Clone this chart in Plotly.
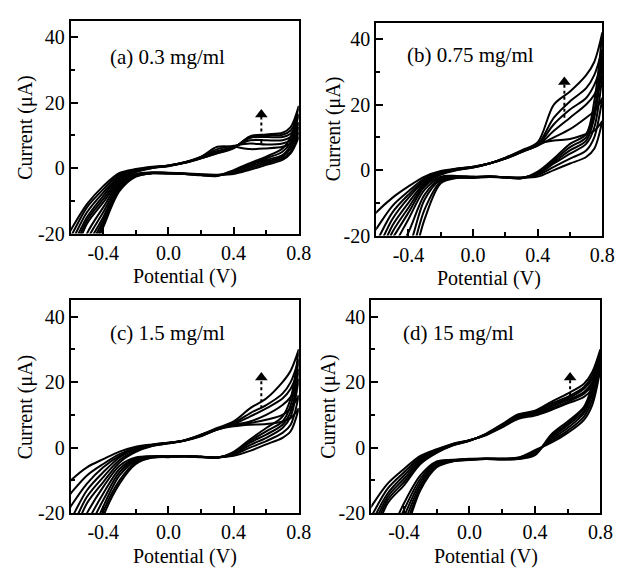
import plotly.graph_objects as go

# Potential grid (V) shared by all branches
POT = [-0.7, -0.6, -0.5, -0.4, -0.3, -0.2, -0.1, 0.0, 0.1, 0.2, 0.3, 0.4, 0.5, 0.6, 0.7, 0.75, 0.8]

# ---- panel (a) 0.3 mg/ml : forward (upper) and reverse (lower) branches, µA
A_FWD = [
    [-28, -19, -11, -5.5, -1.5, -0.3, 0.4, 0.8, 1.8, 3.5, 6.5, 6.5, 5.8, 6.0, 6.5, 7.5, 9.5],
    [-30, -21, -12, -6.5, -2.0, -0.5, 0.3, 0.8, 1.8, 3.4, 5.8, 6.8, 7.5, 7.2, 7.5, 8.5, 11],
    [-32, -23, -13.5, -7.5, -2.5, -0.7, 0.2, 0.7, 1.7, 3.2, 5.2, 6.5, 8.5, 8.5, 8.5, 9.5, 12.5],
    [-34, -25, -15, -8.5, -3.0, -0.9, 0.1, 0.7, 1.7, 3.1, 4.8, 6.3, 9.2, 9.5, 9.5, 10.5, 14],
    [-36, -27, -16, -9.5, -3.5, -1.0, 0.1, 0.7, 1.6, 3.0, 4.6, 6.2, 9.5, 10.0, 10.2, 11.5, 16.5],
    [-38, -29, -17, -10.5, -4.0, -1.2, 0.0, 0.6, 1.6, 3.0, 4.5, 6.0, 9.7, 10.3, 10.8, 12.5, 19],
]
A_REV = [
    [-45, -34, -20, -12, -4.5, -1.8, -1.3, -1.4, -1.6, -1.9, -2.0, -1.8, -0.5, 1.0, 2.5, 4.5, 9.5],
    [-47, -36, -22, -13.5, -5.0, -2.0, -1.4, -1.5, -1.7, -2.0, -2.1, -1.5, 0.0, 1.5, 3.0, 5.0, 11],
    [-49, -38, -24, -15, -5.5, -2.2, -1.5, -1.5, -1.7, -2.0, -2.2, -1.2, 0.5, 2.0, 3.5, 6.0, 12.5],
    [-51, -40, -26, -16, -6.0, -2.4, -1.5, -1.6, -1.8, -2.1, -2.3, -1.0, 1.0, 2.5, 4.0, 7.0, 14],
    [-53, -42, -28, -17, -6.5, -2.5, -1.6, -1.6, -1.8, -2.1, -2.3, -0.8, 1.2, 3.0, 5.0, 8.0, 16.5],
    [-55, -44, -30, -18, -7.0, -2.6, -1.6, -1.7, -1.8, -2.2, -2.4, -0.6, 1.5, 3.5, 6.0, 9.5, 19],
]

# ---- panel (b) 0.75 mg/ml
B_FWD = [
    [-19, -13, -8.5, -5.0, -2.0, -0.3, 0.5, 1.0, 2.0, 3.5, 5.5, 8.0, 9.0, 9.5, 11, 12, 15],
    [-25, -18, -11, -6.5, -2.5, -0.6, 0.4, 1.0, 2.0, 3.5, 5.5, 7.5, 10, 12.5, 16, 18, 22],
    [-30, -22, -13, -7.5, -3.0, -0.8, 0.3, 0.9, 2.0, 3.6, 5.6, 7.5, 12, 16, 20, 23, 29],
    [-33, -25, -15, -8.5, -3.5, -1.0, 0.2, 0.9, 2.0, 3.6, 5.7, 7.6, 14, 18.5, 22, 26, 33],
    [-36, -28, -17, -10, -4.0, -1.2, 0.1, 0.8, 2.0, 3.7, 5.8, 7.8, 16, 21, 25, 29, 37],
    [-39, -31, -19, -11.5, -4.5, -1.4, 0.0, 0.8, 2.0, 3.8, 6.0, 8.5, 20, 24, 29, 33, 42],
]
B_REV = [
    [-40, -30, -21, -13, -5.0, -2.0, -1.8, -2.0, -2.0, -2.2, -2.3, -2.0, 0.0, 2.0, 4.0, 6.5, 15],
    [-44, -34, -24, -15, -6.0, -2.3, -2.0, -2.1, -2.0, -2.2, -2.3, -1.5, 1.0, 3.5, 6.0, 10, 22],
    [-48, -38, -28, -19, -7.5, -2.6, -2.1, -2.2, -2.0, -2.2, -2.4, -1.2, 2.0, 5.0, 8.0, 13, 29],
    [-52, -42, -32, -24, -9.0, -3.0, -2.2, -2.3, -2.0, -2.2, -2.4, -1.0, 2.5, 6.0, 9.0, 16, 33],
    [-56, -46, -36, -28, -12, -3.5, -2.3, -2.3, -2.0, -2.3, -2.5, -0.8, 3.0, 7.0, 10, 18, 37],
    [-60, -50, -40, -32, -15, -4.0, -2.4, -2.4, -2.1, -2.3, -2.5, -0.5, 3.5, 8.0, 11, 21, 42],
]

# ---- panel (c) 1.5 mg/ml
C_FWD = [
    [-15, -10, -6.0, -3.5, -1.2, 0.3, 1.0, 1.5, 2.2, 3.5, 5.5, 6.5, 7.0, 7.2, 8.0, 9.0, 12],
    [-20, -14, -8.5, -5.0, -2.0, 0.0, 0.9, 1.5, 2.2, 3.6, 5.5, 6.8, 7.5, 8.5, 10, 12, 16],
    [-26, -18, -11, -6.0, -2.5, -0.3, 0.8, 1.4, 2.2, 3.7, 5.6, 7.0, 8.0, 10, 13, 15.5, 21],
    [-30, -22, -13, -7.5, -3.0, -0.6, 0.7, 1.4, 2.2, 3.8, 5.7, 7.2, 9.5, 12, 15, 18, 24],
    [-33, -25, -15, -9.0, -3.8, -1.0, 0.6, 1.3, 2.2, 3.9, 5.8, 7.5, 10.5, 13, 16.5, 20, 27],
    [-36, -28, -17, -10.5, -4.5, -1.3, 0.5, 1.3, 2.3, 4.0, 6.0, 8.0, 12, 15, 20, 23.5, 30],
]
C_REV = [
    [-40, -30, -20, -12, -5.5, -3.0, -2.6, -2.6, -2.6, -2.8, -3.0, -2.5, -1.0, 1.0, 3.0, 5.0, 12],
    [-44, -34, -23, -14, -6.5, -3.3, -2.7, -2.7, -2.6, -2.8, -3.0, -2.2, 0.0, 2.0, 4.5, 7.0, 16],
    [-48, -38, -26, -16, -7.5, -3.6, -2.8, -2.7, -2.6, -2.8, -3.0, -2.0, 0.8, 3.0, 6.0, 9.5, 21],
    [-52, -42, -30, -18, -8.5, -4.0, -2.9, -2.8, -2.6, -2.8, -3.0, -1.8, 1.5, 4.0, 7.0, 11, 24],
    [-56, -46, -34, -19.5, -10, -4.5, -3.0, -2.8, -2.6, -2.8, -3.0, -1.5, 2.0, 5.0, 8.0, 13, 27],
    [-60, -50, -38, -21, -11, -5.0, -3.0, -2.9, -2.7, -2.9, -3.1, -1.3, 2.5, 6.0, 9.5, 15, 30],
]

# ---- panel (d) 15 mg/ml
D_FWD = [
    [-26, -18, -11, -6.5, -2.5, -0.5, 1.2, 2.3, 3.8, 6.2, 8.8, 9.8, 11.5, 13.5, 15.5, 18, 24],
    [-30, -21, -12.5, -7.5, -3.0, -0.8, 1.1, 2.3, 3.9, 6.4, 9.2, 10.2, 12, 14, 16.5, 19, 25],
    [-32, -23, -14, -8.5, -3.5, -1.0, 1.0, 2.2, 4.0, 6.6, 9.5, 10.5, 12.5, 14.5, 17, 20, 26.5],
    [-34, -25, -15, -9.5, -4.0, -1.2, 0.9, 2.2, 4.0, 6.8, 9.8, 10.8, 13, 15, 18, 21, 28],
    [-36, -27, -16, -10.5, -4.5, -1.4, 0.8, 2.1, 4.1, 7.0, 10, 11, 13.5, 15.5, 18.5, 22, 29],
    [-38, -29, -17, -11.5, -5.0, -1.6, 0.7, 2.1, 4.2, 7.2, 10.2, 11.3, 14, 16.5, 19.5, 23, 30],
]
D_REV = [
    [-50, -40, -28, -17, -8.5, -4.2, -3.7, -3.4, -3.3, -3.3, -3.0, -0.8, 1.5, 4.5, 8.5, 13, 24],
    [-52, -42, -30, -19, -9.5, -4.5, -3.8, -3.5, -3.3, -3.4, -3.1, -1.1, 2.0, 5.2, 9.5, 14.5, 25],
    [-54, -44, -32, -21, -10.5, -4.8, -3.9, -3.6, -3.4, -3.5, -3.2, -1.4, 2.5, 6.0, 10.5, 16, 26.5],
    [-56, -46, -34, -23, -11.5, -5.2, -4.0, -3.6, -3.4, -3.5, -3.3, -1.7, 3.0, 6.8, 11.2, 17, 28],
    [-58, -48, -36, -25, -12.5, -5.6, -4.1, -3.7, -3.5, -3.6, -3.4, -2.0, 3.5, 7.4, 12, 18, 29],
    [-60, -50, -38, -27, -13, -6.0, -4.2, -3.8, -3.5, -3.6, -3.5, -2.3, 4.0, 8.0, 12.5, 19, 30],
]

PANELS = [
    ("(a) 0.3 mg/ml", A_FWD, A_REV),
    ("(b) 0.75 mg/ml", B_FWD, B_REV),
    ("(c) 1.5 mg/ml", C_FWD, C_REV),
    ("(d) 15 mg/ml", D_FWD, D_REV),
]
LABEL_POS = [(-0.37, 34), (-0.42, 35), (-0.37, 35), (-0.42, 35)]
# growth arrows: x, base current, tip current
ARROWS = [(0.57, 7.5, 18), (0.565, 16, 28.5), (0.57, 12, 23), (0.615, 16, 23)]

X_TICKS = [-0.4, 0.0, 0.4, 0.8]
X_TICKTEXT = ["-0.4", "0.0", "0.4", "0.8"]
X_MINOR = [-0.2, 0.2, 0.6]
Y_TICKS = [-20, 0, 20, 40]
Y_TICKTEXT = ["-20", "0", "20", "40"]
Y_MINOR = [-10, 10, 30]

W, H = 623, 574
# pixel frames of the four plots: left, right, top, bottom
FRAMES = [(64, 297, 13, 230), (376, 607, 15, 232), (64, 297, 298, 515), (371, 605, 298, 515)]
# axis-title centres in pixels: x-title y, y-title x
XTITLE_Y = [274, 276, 559, 559]
YTITLE_X = [18, 332, 18, 328]

FONT = "Liberation Serif, Times New Roman, serif"
TF = dict(family=FONT, size=20, color="black")
fig = go.Figure()
for i, (label, fwd, rev) in enumerate(PANELS):
    n = i + 1
    xa = "x" if n == 1 else f"x{n}"
    ya = "y" if n == 1 else f"y{n}"
    for f, r in zip(fwd, rev):
        fig.add_trace(go.Scatter(
            x=POT + POT[::-1], y=f + r[::-1], mode="lines",
            line=dict(color="black", width=2, shape="spline", smoothing=0.9),
            xaxis=xa, yaxis=ya, showlegend=False, hoverinfo="skip"))
    ax, y0, y1 = ARROWS[i]
    fig.add_trace(go.Scatter(x=[ax, ax], y=[y0, y1 - 2], mode="lines",
                             line=dict(color="black", width=2, dash="dot"),
                             xaxis=xa, yaxis=ya, showlegend=False, hoverinfo="skip"))
    fig.add_trace(go.Scatter(x=[ax], y=[y1 - 1.6], mode="markers",
                             marker=dict(symbol="triangle-up", size=11, color="black"),
                             xaxis=xa, yaxis=ya, showlegend=False, hoverinfo="skip"))
    lx, ly = LABEL_POS[i]
    fig.add_annotation(x=lx, y=ly, xref=xa, yref=ya, text=label, showarrow=False,
                       xanchor="left", yanchor="middle",
                       font=dict(family=FONT, size=21, color="black"))

    l, r_, t, b = FRAMES[i]
    fig.add_annotation(x=(l + r_) / 2 / W, y=1 - XTITLE_Y[i] / H, xref="paper", yref="paper",
                       text="Potential (V)", showarrow=False, xanchor="center",
                       yanchor="middle", font=TF, borderpad=0)
    fig.add_annotation(x=YTITLE_X[i] / W, y=1 - (t + b) / 2 / H, xref="paper", yref="paper",
                       text="Current (μA)", showarrow=False, textangle=-90,
                       xanchor="center", yanchor="middle", font=TF, borderpad=0)

    common = dict(showline=True, linecolor="black", linewidth=2, mirror=True,
                  ticks="inside", ticklen=7, tickwidth=1.5, tickcolor="black",
                  showgrid=False, zeroline=False,
                  tickfont=TF)
    fig.layout[("xaxis" if n == 1 else f"xaxis{n}")] = dict(
        domain=[l / W, r_ / W], anchor=ya, range=[-0.6, 0.8],
        tickvals=X_TICKS, ticktext=X_TICKTEXT,
        minor=dict(tickvals=X_MINOR, ticks="inside", ticklen=4, tickwidth=1.5, tickcolor="black"),
        **common)
    fig.layout[("yaxis" if n == 1 else f"yaxis{n}")] = dict(
        domain=[1 - b / H, 1 - t / H], anchor=xa, range=[-20, 45],
        tickvals=Y_TICKS, ticktext=Y_TICKTEXT,
        minor=dict(tickvals=Y_MINOR, ticks="inside", ticklen=4, tickwidth=1.5, tickcolor="black"),
        **common)

fig.update_layout(width=W, height=H, margin=dict(l=0, r=0, t=0, b=0),
                  paper_bgcolor="white", plot_bgcolor="white", showlegend=False)
fig.write_html("out.html")
